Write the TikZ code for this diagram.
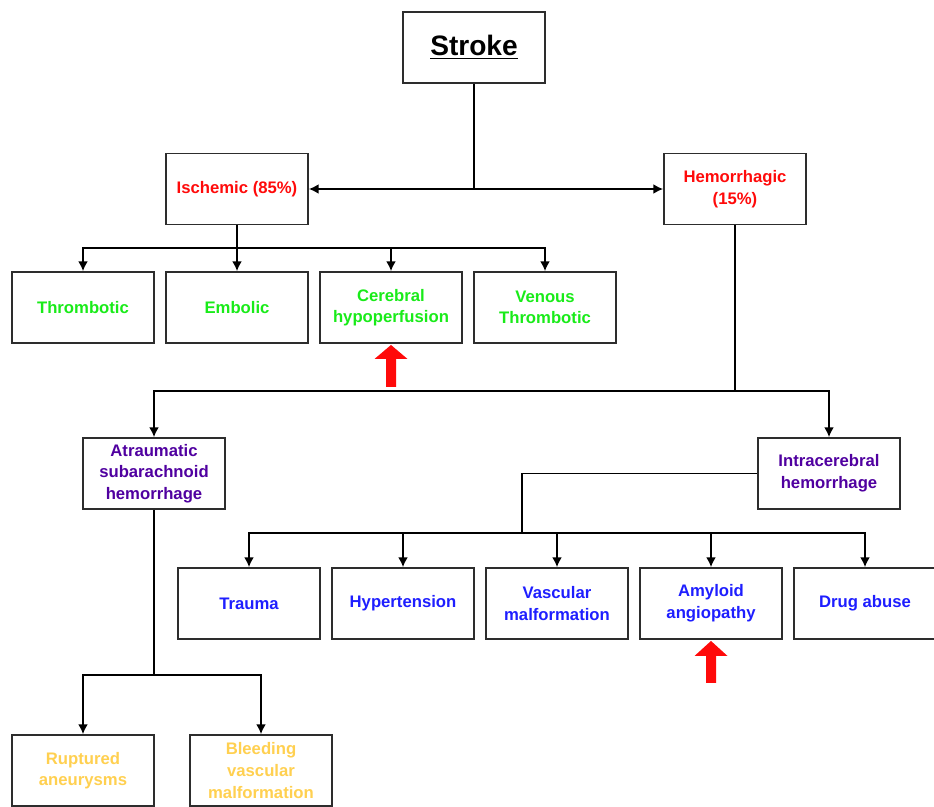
\documentclass[tikz,border=0pt]{standalone}
\usepackage{fontspec}
\setmainfont{Liberation Sans}
\usepackage{tikz}
\usetikzlibrary{calc, arrows, arrows.meta}
\tikzset{>={Latex[length=5.5pt, width=5.5pt]}}
\definecolor{myred}{RGB}{255, 10, 10}
\definecolor{mygreen}{RGB}{25, 235, 25}
\definecolor{mypurple}{RGB}{80, 0, 160}
\definecolor{myblue}{RGB}{30, 30, 255}
\definecolor{myyellow}{RGB}{255, 208, 80}
\definecolor{mygray3}{RGB}{45, 45, 45}
\tikzset{box/.style = {draw = mygray3, line width = 1.1pt, fill = white, minimum width = 28.4mm, minimum height = 14.2mm, align = center, inner sep = 1pt, font = \bfseries\fontsize{9.5}{12.3}\selectfont},
         link/.style = {line width = 0.75pt, black}}
\newcommand{\bigup}[3]{\fill[myred] (#1) -- ++(16.5, #2) -- ++(-11.5, 0) -- ++(0, #3) -- ++(-10, 0) -- ++(0, -#3) -- ++(-11.5, 0) -- cycle;}

\begin{document}
\begin{tikzpicture}[x = 0.2mm, y = -0.2mm]
\fill[white] (0, 0) rectangle (934, 806);
\useasboundingbox (0, 0) rectangle (934, 806);

\node[box, font = \bfseries\fontsize{16}{19}\selectfont] (stroke) at (474, 47.5) {\underline{Stroke}};
\node[box, text = myred] (isch) at (237, 189) {Ischemic (85\%)};
\node[box, text = myred] (hemo) at (735, 189) {Hemorrhagic\\(15\%)};

% ischemic subtypes
\begin{scope}[every node/.append style = {text = mygreen}]
\node[box] (throm) at (83, 307.5) {Thrombotic};
\node[box] (embol) at (237, 307.5) {Embolic};
\node[box] (cereb) at (391, 307.5) {Cerebral\\hypoperfusion};
\node[box] (venous) at (545, 307.5) {Venous\\Thrombotic};
\end{scope}

\node[box, text = mypurple] (atrau) at (154, 473.5) {Atraumatic\\subarachnoid\\hemorrhage};
\node[box, text = mypurple] (intra) at (829, 473.5) {Intracerebral\\hemorrhage};

% intracerebral causes
\begin{scope}[every node/.append style = {text = myblue}]
\node[box] (trauma) at (249, 603.5) {Trauma};
\node[box] (hyper) at (403, 603.5) {Hypertension};
\node[box] (vascm) at (557, 603.5) {Vascular\\malformation};
\node[box] (amyl) at (711, 603.5) {Amyloid\\angiopathy};
\node[box] (drug) at (865, 603.5) {Drug abuse};
\end{scope}

\node[box, text = myyellow] (rupt) at (83, 770.5) {Ruptured\\aneurysms};
\node[box, text = myyellow] (bleed) at (261, 770.5) {Bleeding\\vascular\\malformation};

\draw[link] (stroke.south) -- (stroke.south |- isch.east);
\draw[link, <->] (isch.east) -- (hemo.west);

\coordinate (isplit) at (237, 248);
\draw[link] (isch.south) -- (isplit);
\foreach \n in {throm, embol, cereb, venous}
  \draw[link, ->] (isplit) -| (\n.north);

\coordinate (hsplit) at (735, 391);
\draw[link] (hemo.south) -- (hsplit);
\draw[link, ->] (hsplit) -| (atrau.north);
\draw[link, ->] (hsplit) -| (intra.north);

\coordinate (ibus) at (522, 533);
\draw[link] (intra.west) -| (ibus);
\foreach \n in {trauma, hyper, vascm, amyl, drug}
  \draw[link, ->] (ibus) -| (\n.north);

\coordinate (abus) at (154, 675);
\draw[link] (atrau.south) -- (abus);
\draw[link, ->] (abus) -| (rupt.north);
\draw[link, ->] (abus) -| (bleed.north);

% red markers
\bigup{$(cereb.south) + (0, 1)$}{14}{28}
\bigup{$(amyl.south) + (0, 1)$}{15}{27}
\end{tikzpicture}
\end{document}
